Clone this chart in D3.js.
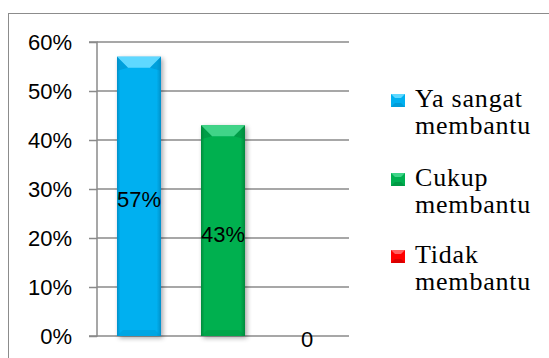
<!DOCTYPE html>
<html>
<head>
<meta charset="utf-8">
<script src="https://cdn.jsdelivr.net/npm/d3@7"></script>
<style>
  html, body { margin: 0; padding: 0; background: #fff; }
  svg { display: block; }
</style>
</head>
<body>
<svg id="chart" width="549" height="358"></svg>
<script>
// Survey answers and their shares
const categories = ["Ya sangat membantu", "Cukup membantu", "Tidak membantu"];
const values = [0.57, 0.43, 0];
const valueLabels = ["57%", "43%", "0"];
const legendLines = [["Ya sangat", "membantu"], ["Cukup", "membantu"], ["Tidak", "membantu"]];
const yTicks = [0, 0.1, 0.2, 0.3, 0.4, 0.5, 0.6];

const colors = ["#00B0F0", "#00B050", "#FF0000"];
const lightColors = ["#5FD8FF", "#3FD488", "#FF6060"];
const darkColors = ["#0090C8", "#008A3C", "#C00000"];

const sansFont = "'Liberation Sans', Arial, sans-serif";
const serifFont = "'Liberation Serif', 'Times New Roman', serif";

const svg = d3.select("#chart");
const W = 549, H = 358;

// Outer frame of the chart area
svg.append("rect")
  .attr("x", 8.5).attr("y", 13.5)
  .attr("width", W + 10).attr("height", H + 10)
  .attr("fill", "none").attr("stroke", "#8c8c8c").attr("stroke-width", 1);

const plot = { left: 97, right: 349, top: 42, bottom: 336 };

const x = d3.scaleBand().domain(categories).range([plot.left, plot.right]).paddingInner(0.476).paddingOuter(0.238);
const y = d3.scaleLinear().domain([0, 0.6]).range([plot.bottom, plot.top]);

// Gridlines
svg.append("g")
  .selectAll("line")
  .data(yTicks)
  .join("line")
  .attr("x1", plot.left).attr("x2", plot.right)
  .attr("y1", d => y(d)).attr("y2", d => y(d))
  .attr("stroke", "#8a8a8a").attr("stroke-width", 1.5);

// Y axis with outward ticks
const yAxis = d3.axisLeft(y).tickValues(yTicks).tickFormat(d3.format(".0%")).tickSize(8).tickPadding(17);
const gy = svg.append("g").attr("transform", `translate(${plot.left},0)`).call(yAxis);
gy.select(".domain").attr("stroke", "#8a8a8a").attr("stroke-width", 1.5).attr("d", `M-8,${plot.top}H0V${plot.bottom}H-8`);
gy.selectAll(".tick line").attr("stroke", "#8a8a8a").attr("stroke-width", 1.5);
gy.selectAll(".tick text")
  .attr("fill", "#000")
  .attr("dy", "0.36em")
  .style("font-family", sansFont)
  .style("font-size", "22px");

// Gradients and shadow for the beveled bars
const defs = svg.append("defs");
colors.forEach((c, i) => {
  const g = defs.append("linearGradient").attr("id", "barGrad" + i).attr("x1", 0).attr("x2", 1).attr("y1", 0).attr("y2", 0);
  g.append("stop").attr("offset", "0%").attr("stop-color", darkColors[i]);
  g.append("stop").attr("offset", "8%").attr("stop-color", c);
  g.append("stop").attr("offset", "90%").attr("stop-color", c);
  g.append("stop").attr("offset", "100%").attr("stop-color", darkColors[i]);
});
const f = defs.append("filter").attr("id", "shadow").attr("x", "-30%").attr("y", "-10%").attr("width", "160%").attr("height", "130%");
f.append("feGaussianBlur").attr("in", "SourceAlpha").attr("stdDeviation", 2.5);
f.append("feOffset").attr("dx", 1.5).attr("dy", 2).attr("result", "b");
f.append("feComponentTransfer").append("feFuncA").attr("type", "linear").attr("slope", 0.35);
const fm = f.append("feMerge");
fm.append("feMergeNode");
fm.append("feMergeNode").attr("in", "SourceGraphic");

// Bars
const bars = svg.append("g")
  .selectAll("g")
  .data(categories.map((c, i) => ({ c, v: values[i], i })).filter(d => d.v > 0))
  .join("g")
  .attr("filter", "url(#shadow)");

bars.append("rect")
  .attr("x", d => x(d.c)).attr("y", d => y(d.v))
  .attr("width", x.bandwidth()).attr("height", d => y(0) - y(d.v))
  .attr("fill", d => `url(#barGrad${d.i})`);

// Top bevel: lighter facet with darker corner wedges
const bevel = 11;
bars.append("path")
  .attr("d", d => {
    const x0 = x(d.c), x1 = x0 + x.bandwidth(), t = y(d.v);
    return `M${x0},${t}H${x1}L${x1 - bevel},${t + bevel}H${x0 + bevel}Z`;
  })
  .attr("fill", d => lightColors[d.i]);
bars.append("path")
  .attr("d", d => {
    const x0 = x(d.c), t = y(d.v);
    return `M${x0},${t}L${x0 + bevel},${t + bevel}L${x0},${t + bevel + 3}Z`;
  })
  .attr("fill", d => darkColors[d.i]).attr("opacity", 0.5);
bars.append("path")
  .attr("d", d => {
    const x1 = x(d.c) + x.bandwidth(), t = y(d.v);
    return `M${x1},${t}L${x1 - bevel},${t + bevel}L${x1},${t + bevel + 3}Z`;
  })
  .attr("fill", d => darkColors[d.i]).attr("opacity", 0.5);
// Bottom bevel: subtle darker band
bars.append("path")
  .attr("d", d => {
    const x0 = x(d.c), x1 = x0 + x.bandwidth(), b = y(0);
    return `M${x0},${b}H${x1}L${x1 - 6},${b - 6}H${x0 + 6}Z`;
  })
  .attr("fill", d => darkColors[d.i]).attr("opacity", 0.3);

// Value labels, centred on each bar
svg.append("g")
  .selectAll("text")
  .data(categories.map((c, i) => ({ c, v: values[i], label: valueLabels[i] })))
  .join("text")
  .attr("x", d => x(d.c) + x.bandwidth() / 2)
  .attr("y", d => (y(d.v) + y(0)) / 2 + 3)
  .attr("text-anchor", "middle")
  .attr("dy", "0.36em")
  .style("font-family", sansFont)
  .style("font-size", "22px")
  .attr("fill", "#000")
  .text(d => d.label);

// Legend
const legend = svg.append("g");
const legendBaseline = [107, 186, 263];
legendLines.forEach((lines, i) => {
  const g = legend.append("g").attr("transform", `translate(391,${legendBaseline[i]})`);
  g.append("rect").attr("x", 0).attr("y", -13).attr("width", 14).attr("height", 13).attr("fill", colors[i]);
  g.append("path").attr("d", "M0,-13H14L10,-9H4Z").attr("fill", lightColors[i]);
  g.append("path").attr("d", "M0,0H14L10,-4H4Z").attr("fill", darkColors[i]).attr("opacity", 0.6);
  lines.forEach((t, j) => {
    g.append("text")
      .attr("x", 24).attr("y", j * 27)
      .style("font-family", serifFont)
      .style("font-size", "26px")
      .style("letter-spacing", "0.8px")
      .attr("fill", "#000")
      .text(t);
  });
});
</script>
</body>
</html>
